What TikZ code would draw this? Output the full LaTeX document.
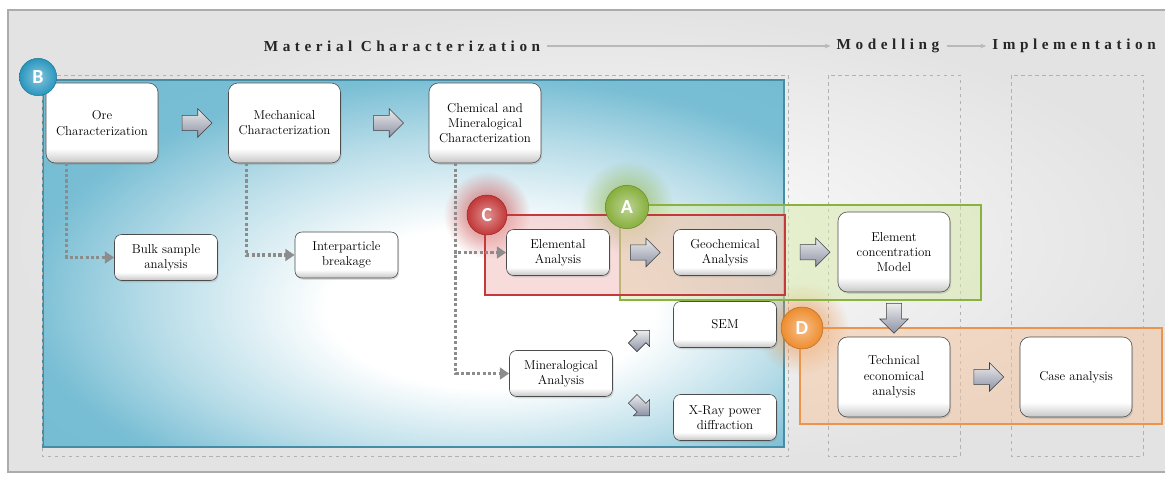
\documentclass[tikz,border=0pt]{standalone}
\usepackage{fontspec}
\newfontfamily\headfont[LetterSpace=30]{Liberation Serif}
\newfontfamily\badgefont{Carlito}
\usetikzlibrary{positioning,calc,shapes.arrows,arrows.meta,fadings,shadows}

\definecolor{boxblue}{RGB}{96,178,204}
\definecolor{boxedge}{RGB}{70,140,165}
\definecolor{redhl}{RGB}{196,58,58}
\definecolor{redfill}{RGB}{242,185,185}
\definecolor{greenhl}{RGB}{138,178,62}
\definecolor{greenfill}{RGB}{214,234,168}
\definecolor{orangehl}{RGB}{234,148,78}
\definecolor{orangefill}{RGB}{245,198,158}
\definecolor{arrowgray}{RGB}{140,146,166}
\definecolor{badgeblue}{RGB}{40,150,190}
\definecolor{badgered}{RGB}{195,55,55}
\definecolor{badgegreen}{RGB}{135,175,60}
\definecolor{badgeorange}{RGB}{238,140,45}

\pgfdeclareverticalshading{boxshade}{100bp}{color(0bp)=(gray!45); color(25bp)=(gray!45); color(34bp)=(white); color(100bp)=(white)}
\pgfdeclareradialshading{blueglow}{\pgfpoint{6bp}{-7bp}}{color(0bp)=(white); color(11bp)=(white); color(22bp)=(boxblue!45); color(30bp)=(boxblue!85); color(80bp)=(boxblue)}
\tikzfading[name=glowfade, inner color=transparent!15, outer color=transparent!100]

\tikzset{
  stage/.style={draw=gray!60!black, line width=0.5pt, rounded corners=8pt, shading=boxshade,
    align=center, text=black, font=\fontsize{11}{13}\selectfont,
    drop shadow={opacity=0.25, shadow xshift=1pt, shadow yshift=-1.5pt}},
  bigstage/.style={stage, minimum width=3.36cm, minimum height=2.4cm},
  smallstage/.style={stage, rounded corners=6pt, minimum width=3.09cm, minimum height=1.38cm},
  blockarrow/.style={single arrow, draw=black!75, line width=0.5pt, top color=gray!15, bottom color=arrowgray,
    minimum height=0.9cm, minimum width=0.84cm, single arrow head extend=0.2cm,
    inner xsep=0pt, inner ysep=0.22cm},
  dotlink/.style={draw=black!45, line width=2.6pt, dash pattern=on 2.6pt off 2pt,
    -{Triangle[length=8pt,width=10pt]}},
  titletext/.style={font=\headfont\bfseries\fontsize{13}{13}\selectfont, text=black!85, inner sep=2pt},
  headarrow/.style={draw=gray!55, line width=0.9pt, shorten <=4pt, shorten >=3pt, -{Stealth[length=5pt,width=4pt]}},
  colbox/.style={draw=gray!60, dashed, line width=0.5pt},
  panel/.style={draw=gray!65, line width=1.2pt, inner color=white, outer color=gray!22},
  bluepanel/.style={shading=blueglow, draw=boxedge, line width=1.2pt},
  hlbox/.style={line width=2pt, fill opacity=0.5},
  badge/.style={circle, inner color=#1!55!white, outer color=#1, draw=#1!75!black, line width=0.4pt,
    text=white, inner sep=0pt, font=\badgefont\bfseries\fontsize{17}{17}\selectfont}
}

\begin{document}
\begin{tikzpicture}[x=0.03cm, y=-0.03cm]
  \useasboundingbox (0,0) rectangle (1165,479);

  % panel and headings
  \draw[panel] (8,10) rectangle (1180,472);
  \node[titletext] (mat) at (402,46) {Material Characterization};
  \node[titletext] (mod) at (888,46) {Modelling};
  \node[titletext] (imp) at (1074,46) {Implementation};
  \draw[headarrow] (mat) -- (mod);
  \draw[headarrow] (mod) -- (imp);

  % blue area and column frames
  \draw[bluepanel] (43,80) rectangle (784,447);
  \draw[colbox] (42,75) rectangle (788,456);
  \draw[colbox] (828,75) rectangle (960,456);
  \draw[colbox] (1011,75) rectangle (1143,456);

  % glows and highlight frames
  \fill[redhl, path fading=glowfade] (487,215) circle (1.3cm);
  \fill[greenhl, path fading=glowfade] (627,207) circle (1.4cm);
  \fill[orangehl, path fading=glowfade] (802,328) circle (1.4cm);
  \draw[hlbox, draw=greenhl, fill=greenfill] (620,205) rectangle (981,300);
  \draw[hlbox, draw=redhl, fill=redfill] (485,215) rectangle (785,295);
  \draw[hlbox, draw=orangehl, fill=orangefill] (800,328) rectangle (1162,424);

  % top row
  \node[bigstage] (ore) at (102,123) {Ore\\Characterization};
  \node[bigstage, right of=ore, node distance=5.475cm] (mech) {Mechanical\\Characterization};
  \node[bigstage, right of=mech, node distance=6.015cm] (chem) {Chemical and\\Mineralogical\\Characterization};

  % analyses
  \node[smallstage] (bulk) at (166,257.5) {Bulk sample\\analysis};
  \node[smallstage] (inter) at (346.5,255) {Interparticle\\breakage};
  \node[smallstage] (elemental) at (558,252.5) {Elemental\\Analysis};
  \node[smallstage, right of=elemental, node distance=5.01cm] (geo) {Geochemical\\Analysis};
  \node[smallstage, below of=geo, node distance=2.16cm] (sem) {SEM};
  \node[smallstage, below of=sem, node distance=2.79cm] (xray) {X-Ray power\\diffraction};
  \node[smallstage] (mineral) at (561,373.5) {Mineralogical\\Analysis};

  % modelling and implementation
  \node[bigstage] (conc) at (894,252) {Element\\concentration\\Model};
  \node[bigstage, below of=conc, node distance=3.75cm] (tech) {Technical\\economical\\analysis};
  \node[bigstage, right of=tech, node distance=5.46cm] (case) {Case analysis};

  % dotted links
  \draw[dotlink] ($(ore.south west)+(21,0)$) |- (bulk.west);
  \draw[dotlink] ($(mech.south west)+(18,0)$) |- (inter.west);
  \draw[dotlink] ($(chem.south west)+(27,0)$) |- (elemental.west);
  \draw[dotlink] ($(chem.south west)+(27,0)$) |- (mineral.west);

  % block arrows
  \node[blockarrow] (a1) at ($(ore.east)!0.5!(mech.west)$) {};
  \node[blockarrow] (a2) at ($(mech.east)!0.5!(chem.west)$) {};
  \node[blockarrow] (a3) at ($(elemental.east)!0.5!(geo.west)$) {};
  \node[blockarrow] (a4) at ($(geo.east)!0.5!(conc.west)+(4,0)$) {};
  \node[blockarrow, rotate=-90] (a5) at ($(conc.south)!0.5!(tech.north)$) {};
  \node[blockarrow] (a6) at ($(tech.east)!0.5!(case.west)$) {};
  \node[blockarrow, rotate=45, scale=0.8] (a7) at ($(mineral.north east)!0.5!(sem.south west)+(-4,-8)$) {};
  \node[blockarrow, rotate=-45, scale=0.8] (a8) at ($(mineral.south east)!0.5!(xray.west)+(-4,-2)$) {};

  % badges
  \node[badge=badgeblue, minimum size=1.12cm] (B) at (38,77) {B};
  \node[badge=badgered, minimum size=1.2cm] (C) at (487,215) {C};
  \node[badge=badgegreen, minimum size=1.3cm] (A) at (627,207) {A};
  \node[badge=badgeorange, minimum size=1.26cm] (D) at (802,328) {D};
\end{tikzpicture}
\end{document}
